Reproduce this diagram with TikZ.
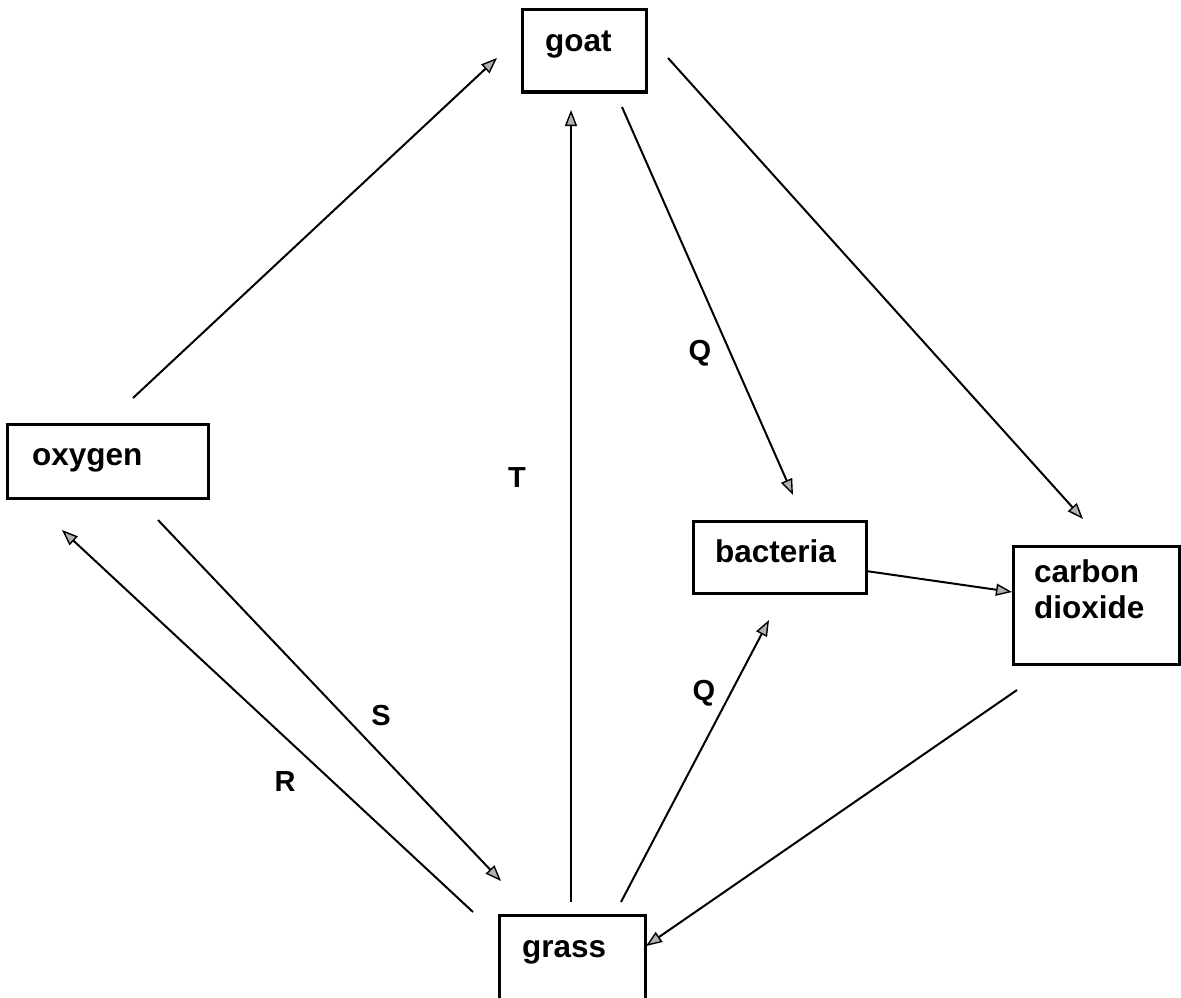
\documentclass[tikz,border=0pt]{standalone}
\usepackage{fontspec}
\setmainfont{Liberation Sans}
\usetikzlibrary{arrows.meta}
\begin{document}
\begin{tikzpicture}[x=1pt,y=-1pt,
  box/.style={draw,line width=3pt,rectangle,inner sep=0pt},
  word/.style={anchor=base west,inner sep=0pt,font=\fontsize{31.5}{36}\selectfont\bfseries},
  tag/.style={inner sep=0pt,font=\fontsize{29}{34}\selectfont\bfseries},
  arr/.style={line width=2pt,-{Triangle[length=16pt,width=12pt,fill=gray!60,line width=1.4pt]}}]
\clip (0,0) rectangle (1181,998);
\fill[white] (0,0) rectangle (1181,998);

% boxes
\node[box,minimum width=124pt,minimum height=82pt] (goat) at (584,51) {};
\node[box,minimum width=201pt,minimum height=74pt] (oxygen) at (107.5,461) {};
\node[box,minimum width=173pt,minimum height=72pt] (bacteria) at (779.5,557) {};
\node[box,minimum width=166pt,minimum height=118pt] (co2) at (1096,605) {};
\node[box,minimum width=146pt,minimum height=110pt] (grass) at (572,970) {};

% box texts
\node[word] (tgoat) at (545,52) {goat};
\node[word] (toxygen) at (32,465) {oxygen};
\node[word] (tbacteria) at (715,562) {bacteria};
\node[word] (tcarbon) at (1034,582) {carbon};
\node[word] (tdioxide) at (1034,618) {dioxide};
\node[word] (tgrass) at (522,957) {grass};

% connector ends
\coordinate (oxA) at (133,398);   \coordinate (goA) at (497,58);
\coordinate (goB) at (622,107);   \coordinate (baA) at (793,495);
\coordinate (goC) at (668,58);    \coordinate (coA) at (1083,519);
\coordinate (grA) at (571,902);   \coordinate (goD) at (571,110);
\coordinate (oxB) at (158,520);   \coordinate (grB) at (501,881);
\coordinate (grC) at (473,912);   \coordinate (oxC) at (62,530);
\coordinate (grD) at (621,902);   \coordinate (baB) at (769,620);
\coordinate (baC) at (866,571);   \coordinate (coB) at (1012,592);
\coordinate (coC) at (1017,690);  \coordinate (grE) at (646,946);

% connectors
\draw[arr] (oxA) -- (goA);
\draw[arr] (goB) -- (baA);
\draw[arr] (goC) -- (coA);
\draw[arr] (grA) -- (goD);
\draw[arr] (oxB) -- (grB);
\draw[arr] (grC) -- (oxC);
\draw[arr] (grD) -- (baB);
\draw[arr] (baC) -- (coB);
\draw[arr] (coC) -- (grE);

% connector labels
\node[tag] (lq1) at (700,353) {Q};
\node[tag] (lt) at (517,478) {T};
\node[tag] (lq2) at (704,693) {Q};
\node[tag] (ls) at (381,716) {S};
\node[tag] (lr) at (285,782) {R};
\end{tikzpicture}
\end{document}
